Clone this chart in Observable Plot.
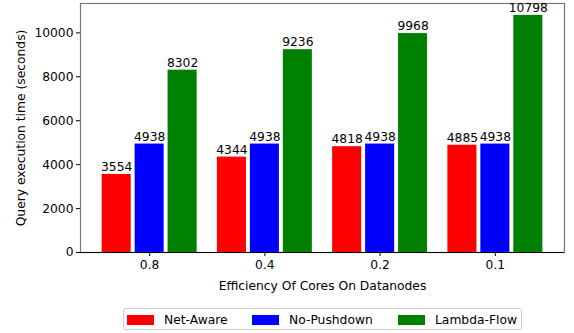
<!DOCTYPE html>
<html><head>
<script src="https://cdn.jsdelivr.net/npm/d3@7"></script>
<script src="https://cdn.jsdelivr.net/npm/@observablehq/plot@0.6"></script>
<style>
body{margin:0;background:#fff;font-family:"DejaVu Sans",sans-serif;}
#wrap{position:relative;width:574px;height:333px;}
#legend{position:absolute;left:123px;top:308px;width:399px;height:22px;border:1px solid #ccc;border-radius:3px;box-sizing:border-box;font-size:12.3px;color:#000;}
.item{position:absolute;top:3px;display:flex;align-items:center;height:15px;}
.sw{width:27px;height:10px;margin-right:10px;}
</style></head>
<body><div id="wrap"><div id="chart"></div><div id="legend"></div></div>
<script>
const categories = ["0.8", "0.4", "0.2", "0.1"];
const series = ["Net-Aware", "No-Pushdown", "Lambda-Flow"];
const netAware = [3554, 4344, 4818, 4885];
const noPushdown = [4938, 4938, 4938, 4938];
const lambdaFlow = [8302, 9236, 9968, 10798];
const colors = ["#ff0000", "#0000ff", "#008000"];
const yTicks = [0, 2000, 4000, 6000, 8000, 10000];

const values = [netAware, noPushdown, lambdaFlow];
const data = [];
series.forEach((s, si) => categories.forEach((c, ci) => data.push({series: s, si, ci, value: values[si][ci]})));
const step = 0.286, half = 0.126;
const cx = d => d.ci + (d.si - 1) * step;
const fs = 12.3;

const chart = Plot.plot({
  width: 574, height: 300,
  marginLeft: 80, marginRight: 10, marginTop: 3, marginBottom: 48,
  style: {fontFamily: "DejaVu Sans", fontSize: fs + "px", color: "#000", background: "#fff", overflow: "visible"},
  x: {domain: [-0.6, 3.6]},
  y: {domain: [0, 11338]},
  color: {domain: series, range: colors},
  marks: [
    Plot.rectY(data, {x1: d => cx(d) - half, x2: d => cx(d) + half, y: "value", fill: "series"}),
    Plot.axisX({ticks: [0, 1, 2, 3], tickFormat: i => categories[i], tickSize: 4, tickPadding: 4, fontSize: fs,
      label: "Efficiency Of Cores On Datanodes", labelAnchor: "center", labelArrow: "none", labelOffset: 37}),
    Plot.axisY({ticks: yTicks, tickFormat: d => String(d), tickSize: 4, tickPadding: 3, fontSize: fs,
      label: "Query execution time (seconds)", labelAnchor: "center", labelArrow: "none", labelOffset: 64}),
    Plot.frame({stroke: "#777", strokeWidth: 1.2}),
    Plot.ruleY([0], {stroke: "#000", strokeWidth: 1.2}),
    Plot.text(data, {x: cx, y: "value", text: d => String(d.value), dy: -3.5, lineAnchor: "bottom", fontSize: fs, fill: "#000"})
  ]
});
document.getElementById("chart").appendChild(chart);

const legend = document.getElementById("legend");
const lefts = [3, 128, 274];
series.forEach((s, i) => {
  const it = document.createElement("div");
  it.className = "item";
  it.style.left = lefts[i] + "px";
  it.innerHTML = `<div class="sw" style="background:${colors[i]}"></div><span>${s}</span>`;
  legend.appendChild(it);
});
</script></body></html>
